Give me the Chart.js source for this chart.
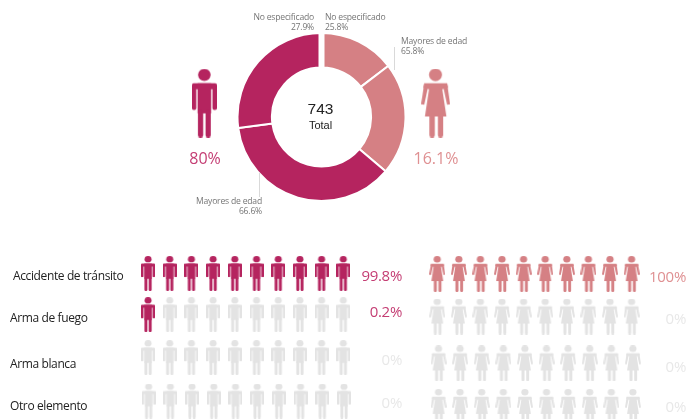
<!DOCTYPE html>
<html><head><meta charset="utf-8">
<script src="https://cdn.jsdelivr.net/npm/chart.js@4"></script>
<style>
html,body{margin:0;padding:0;background:#fff;width:687px;height:419px;overflow:hidden;position:relative}
canvas{position:absolute;filter:blur(.35px)}
.t{position:absolute;white-space:nowrap;font-family:"Open Sans",sans-serif;transform:translateY(-50%);line-height:1;filter:blur(.25px)}
.line{position:absolute;width:1px;background:#d9d9d9}
</style></head><body>
<canvas id="donut" width="171" height="170" style="left:236px;top:32px"></canvas>
<canvas id="big" width="300" height="90" style="left:170px;top:58px"></canvas>
<canvas id="men" width="230" height="169" style="left:130px;top:250px"></canvas>
<canvas id="women" width="230" height="169" style="left:420px;top:250px"></canvas>
<script>
// ---- data ----
const sliceNames = ['No especificado','Mayores de edad','Mayores de edad','No especificado'];
const sliceLabels = ['25.8%','65.8%','66.6%','27.9%'];
const sliceShares = [14.6,21.6,36.7,27.1];
const totalValue = '743';
const totalLabel = 'Total';
const genderShares = ['80%','16.1%'];
const categories = ['Accidente de tránsito','Arma de fuego','Arma blanca','Otro elemento'];
const menValues = ['99.8%','0.2%','0%','0%'];
const womenValues = ['100%','0%','0%','0%'];
const menFilled = [10,1,0,0];
const womenFilled = [10,0,0,0];

// ---- style & layout ----
const DARK='#b5245f', PINK='#d58084', GREY='#e3e3e3';
const ICON_COLS=10;

function manIcon(w,h,color){
  const c=document.createElement('canvas');c.width=w;c.height=h;
  const g=c.getContext('2d');g.scale(w/74,h/206);g.fillStyle=color;
  g.beginPath();g.arc(37,19,18.5,0,Math.PI*2);g.fill();
  g.beginPath();g.roundRect(0,44,74,18,5);g.fill();
  g.beginPath();g.roundRect(0,50,13,74,5);g.roundRect(61,50,13,74,5);g.fill();
  g.fillRect(17,44,40,90);
  g.beginPath();g.roundRect(18,125,15.5,81,7);g.roundRect(40.5,125,15.5,81,7);g.fill();
  return c;
}
function womanIcon(w,h,color){
  const c=document.createElement('canvas');c.width=w;c.height=h;
  const g=c.getContext('2d');g.scale(w/85,h/207);g.fillStyle=color;
  g.beginPath();g.arc(42,19,19,0,Math.PI*2);g.fill();
  g.beginPath();g.moveTo(9,44);g.lineTo(76,44);g.lineTo(79,58);g.lineTo(62,62);g.lineTo(74,144);g.lineTo(11,144);g.lineTo(23,62);g.lineTo(6,58);g.closePath();g.fill();
  g.beginPath();g.moveTo(9,44);g.lineTo(21,52);g.lineTo(9,109);g.lineTo(0,107);g.closePath();g.fill();
  g.beginPath();g.moveTo(76,44);g.lineTo(64,52);g.lineTo(76,109);g.lineTo(85,107);g.closePath();g.fill();
  g.beginPath();g.roundRect(24,135,16,72,7);g.roundRect(49,135,15.5,72,7);g.fill();
  return c;
}

const topGap={id:'topGap',afterDatasetsDraw(ch){
  const a=ch.getDatasetMeta(0).data[0],x=ch.ctx;
  x.save();x.fillStyle='#fff';x.fillRect(a.x-3,a.y-a.outerRadius-1,6,a.outerRadius-a.innerRadius+2);x.restore();
}};
new Chart(document.getElementById('donut'),{type:'doughnut',plugins:[topGap],
  data:{labels:sliceLabels,datasets:[{data:sliceShares,backgroundColor:[PINK,PINK,DARK,DARK],borderColor:'#fff',borderWidth:2}]},
  options:{responsive:false,animation:false,cutout:'59%',layout:{padding:0},plugins:{legend:{display:false},tooltip:{enabled:false}}}});

new Chart(document.getElementById('big'),{type:'scatter',
  data:{datasets:[{data:[{x:0,y:0},{x:1,y:0}],clip:false,
    pointStyle:[manIcon(25,69,DARK),womanIcon(29,69,PINK)]}]},
  options:{responsive:false,animation:false,layout:{padding:0,autoPadding:false},
    scales:{x:{display:false,bounds:'data',min:-0.1486,max:1.1486},
            y:{display:false,bounds:'data',min:-1,max:1}},
    plugins:{legend:{display:false},tooltip:{enabled:false}}}});

function picto(id,filled,icon,w,h,color,rowNudge,xShift,colSpan,rowSpan,xMin,yMin){
  const on=icon(w,h,color),off=icon(w,h,GREY);
  const pts=[],styles=[];
  filled.forEach((n,r)=>{for(let col=1;col<=ICON_COLS;col++){
    pts.push({x:col+xShift[r],y:r+1+rowNudge[r]});
    styles.push(col<=n?on:off);
  }});
  new Chart(document.getElementById(id),{type:'scatter',
    data:{datasets:[{data:pts,pointStyle:styles,clip:false}]},
    options:{responsive:false,animation:false,layout:{padding:0,autoPadding:false},
      scales:{x:{display:false,bounds:'data',min:xMin,max:xMin+230/colSpan},
              y:{display:false,bounds:'data',reverse:true,min:yMin,max:yMin+169/rowSpan}},
      plugins:{legend:{display:false},tooltip:{enabled:false}}}});
}
picto('men',menFilled,manIcon,14,35,DARK,[0,-.03,-.02,0],[0,0,0,.03],21.7,42.5,0.17,0.447);
picto('women',womenFilled,womanIcon,16,36,PINK,[0,-.04,.02,0],[0,0,.06,.06],21.6,44.3,0.2,0.458);

// ---- text ----
function addText(s,o){
  const d=document.createElement('div');d.className='t';d.textContent=s;
  d.style.top=o.y+'px';d.style.fontSize=o.size+'px';d.style.color=o.color;
  if(o.family)d.style.fontFamily=o.family;
  if(o.spacing)d.style.letterSpacing=o.spacing+'px';
  if(o.align==='r')d.style.right=(687-o.x)+'px';
  else if(o.align==='c'){d.style.left=o.x+'px';d.style.transform='translate(-50%,-50%)';}
  else d.style.left=o.x+'px';
  document.body.appendChild(d);
}
const LBL='#767676';
const lblPos=[{x:325,y:17,a:'l'},{x:401,y:41,a:'l'},{x:262,y:201,a:'r'},{x:314,y:17,a:'r'}];
sliceNames.forEach((n,i)=>{
  const p=lblPos[i];
  addText(n,{x:p.x,y:p.y,size:8.6,color:LBL,align:p.a,spacing:-.2});
  addText(sliceLabels[i],{x:p.x,y:p.y+10,size:8.6,color:LBL,align:p.a,spacing:-.2});
});
addText(totalValue,{x:320.5,y:109,size:15.5,color:'#222',align:'c',family:'"Liberation Sans",sans-serif'});
addText(totalLabel,{x:320.5,y:124.5,size:11,color:'#222',align:'c',family:'"Liberation Sans",sans-serif'});
addText(genderShares[0],{x:205,y:158,size:16,color:'#c43d73',align:'c'});
addText(genderShares[1],{x:436,y:158,size:16,color:'#df9092',align:'c'});
const catPos=[[13,276],[10,318],[10,364],[10,406]];
categories.forEach((c,i)=>addText(c,{x:catPos[i][0],y:catPos[i][1],size:12,color:'#222',align:'l',spacing:-.38}));
const menY=[275,311,359,402], womenY=[276,318,366,406];
menValues.forEach((v,i)=>addText(v,{x:402,y:menY[i],size:15,color:i<2?'#c43d73':'#e8e8e8',align:'r',spacing:-.3}));
womenValues.forEach((v,i)=>addText(v,{x:686,y:womenY[i],size:15,color:i<1?'#df9092':'#e8e8e8',align:'r',spacing:-.3}));
[[394,47,23],[259,173,24]].forEach(l=>{const d=document.createElement('div');d.className='line';
  d.style.left=l[0]+'px';d.style.top=l[1]+'px';d.style.height=l[2]+'px';document.body.appendChild(d);});
</script>
</body></html>
